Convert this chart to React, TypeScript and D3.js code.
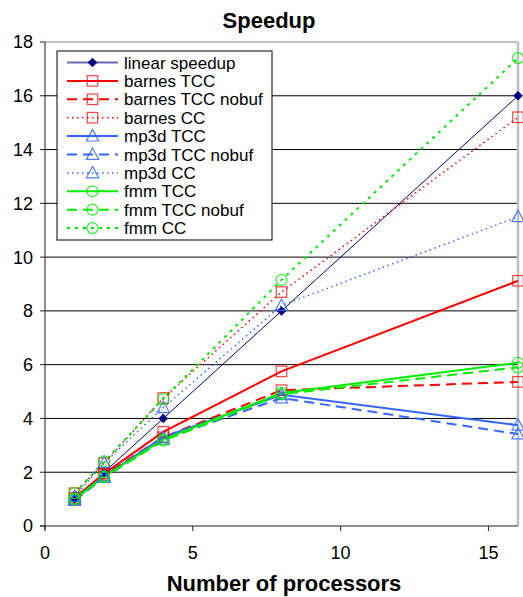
import React from "react";
import * as d3 from "d3";

// Processor counts measured
const processors = [1, 2, 4, 8, 16];

// Speedup values per configuration
const linearSpeedup = [1, 2, 4, 8, 16];
const barnesTCC = [1.05, 1.95, 3.5, 5.75, 9.12];
const barnesTCCNobuf = [1.0, 1.9, 3.3, 5.05, 5.36];
const barnesCC = [1.22, 2.34, 4.76, 8.7, 15.2];
const mp3dTCC = [1.0, 1.85, 3.3, 4.88, 3.75];
const mp3dTCCNobuf = [0.95, 1.8, 3.22, 4.76, 3.42];
const mp3dCC = [1.1, 2.35, 4.4, 8.2, 11.5];
const fmmTCC = [1.0, 1.85, 3.22, 4.95, 6.07];
const fmmTCCNobuf = [1.0, 1.82, 3.17, 4.9, 5.9];
const fmmCC = [1.22, 2.4, 4.72, 9.15, 17.4];

const seriesNames = [
  "linear speedup",
  "barnes TCC",
  "barnes TCC nobuf",
  "barnes CC",
  "mp3d TCC",
  "mp3d TCC nobuf",
  "mp3d CC",
  "fmm TCC",
  "fmm TCC nobuf",
  "fmm CC",
];

const xTicks = [0, 5, 10, 15];
const yTicks = [0, 2, 4, 6, 8, 10, 12, 14, 16, 18];

type Marker = "diamond" | "square" | "triangle" | "circle";
type Style = {
  color: string;
  width: number;
  dash: string | null;
  marker: Marker;
};

const RED = "#ff0000";
const BLUE = "#3366ff";
const GREEN = "#00ee00";
const NAVY = "#000080";

const seriesValues = [
  linearSpeedup,
  barnesTCC,
  barnesTCCNobuf,
  barnesCC,
  mp3dTCC,
  mp3dTCCNobuf,
  mp3dCC,
  fmmTCC,
  fmmTCCNobuf,
  fmmCC,
];

const seriesStyles: Style[] = [
  { color: NAVY, width: 1, dash: null, marker: "diamond" },
  { color: RED, width: 2, dash: null, marker: "square" },
  { color: RED, width: 2, dash: "10,6", marker: "square" },
  { color: RED, width: 1.5, dash: "1.5,3.5", marker: "square" },
  { color: BLUE, width: 2, dash: null, marker: "triangle" },
  { color: BLUE, width: 2, dash: "10,6", marker: "triangle" },
  { color: BLUE, width: 1.5, dash: "1.5,3.5", marker: "triangle" },
  { color: GREEN, width: 2, dash: null, marker: "circle" },
  { color: GREEN, width: 2, dash: "10,6", marker: "circle" },
  { color: GREEN, width: 2, dash: "3,5", marker: "circle" },
];

const W = 523;
const H = 597;
const plot = { left: 45, right: 518, top: 42, bottom: 526 };

const x = d3.scaleLinear().domain([0, 16]).range([plot.left, plot.right]);
const y = d3.scaleLinear().domain([0, 18]).range([plot.bottom, plot.top]);

function MarkerShape({ kind, cx, cy, color }: { kind: Marker; cx: number; cy: number; color: string }) {
  if (kind === "diamond") {
    const r = 4.5;
    return (
      <path
        d={`M${cx},${cy - r}L${cx + r},${cy}L${cx},${cy + r}L${cx - r},${cy}Z`}
        fill={NAVY}
        stroke={NAVY}
        strokeWidth={0.5}
      />
    );
  }
  if (kind === "square") {
    const s = 10.5;
    return (
      <rect
        x={cx - s / 2}
        y={cy - s / 2}
        width={s}
        height={s}
        fill="none"
        stroke={color}
        strokeOpacity={0.75}
        strokeWidth={1.2}
      />
    );
  }
  if (kind === "triangle") {
    const r = 6.5;
    return (
      <path
        d={`M${cx},${cy - r}L${cx + r * 0.95},${cy + r * 0.75}L${cx - r * 0.95},${cy + r * 0.75}Z`}
        fill="none"
        stroke={color}
        strokeOpacity={0.85}
        strokeWidth={1.2}
      />
    );
  }
  return (
    <circle cx={cx} cy={cy} r={5.5} fill="none" stroke={color} strokeOpacity={0.85} strokeWidth={1.2} />
  );
}

export default function App() {
  const line = d3
    .line<number>()
    .x((_, i) => x(processors[i]))
    .y((v) => y(v));

  const legend = { x: 57, y: 51, w: 215, h: 189 };
  const rowY = (i: number) => 62.5 + i * 18.4;

  return (
    <svg
      width={W}
      height={H}
      style={{ position: "absolute", left: 0, top: 0, background: "#fff" }}
      fontFamily="'Liberation Sans', Arial, sans-serif"
    >
      <rect width={W} height={H} fill="#fff" />

      {/* Title */}
      <text x={269} y={28} textAnchor="middle" fontSize={22} fontWeight="bold" fill="#000">
        Speedup
      </text>

      {/* Horizontal gridlines */}
      {yTicks
        .filter((t) => t > 0 && t < 18)
        .map((t) => (
          <line key={`g${t}`} x1={plot.left} x2={plot.right} y1={y(t)} y2={y(t)} stroke="#000" strokeWidth={1} />
        ))}

      {/* Plot frame: top and right borders */}
      <line x1={plot.left} x2={plot.right} y1={plot.top} y2={plot.top} stroke="#808080" strokeWidth={1} />
      <line x1={plot.right} x2={plot.right} y1={plot.top} y2={plot.bottom} stroke="#c0c0c0" strokeWidth={2.5} />

      {/* Axes */}
      <line x1={plot.left} x2={plot.left} y1={plot.top} y2={plot.bottom + 4} stroke="#222" strokeWidth={1} />
      <line x1={plot.left - 5} x2={plot.right} y1={plot.bottom} y2={plot.bottom} stroke="#222" strokeWidth={1} />

      {yTicks.map((t) => (
        <g key={`y${t}`}>
          <line x1={plot.left - 5} x2={plot.left} y1={y(t)} y2={y(t)} stroke="#222" />
          <text x={33} y={y(t)} dy="0.36em" textAnchor="end" fontSize={18} fill="#000">
            {t}
          </text>
        </g>
      ))}

      {xTicks.map((t) => (
        <g key={`x${t}`}>
          <line x1={x(t)} x2={x(t)} y1={plot.bottom} y2={plot.bottom + 5} stroke="#222" />
          <text x={x(t)} y={559} textAnchor="middle" fontSize={18} fill="#000">
            {t}
          </text>
        </g>
      ))}

      <text x={284} y={591} textAnchor="middle" fontSize={22} fontWeight="bold" fill="#000">
        Number of processors
      </text>

      {/* Series lines */}
      {seriesValues.map((vals, i) => {
        const st = seriesStyles[i];
        return (
          <path
            key={`l${i}`}
            d={line(vals) || ""}
            fill="none"
            stroke={st.color}
            strokeWidth={st.width}
            strokeDasharray={st.dash || undefined}
          />
        );
      })}

      {/* Series markers */}
      {seriesValues.map((vals, i) => (
        <g key={`m${i}`}>
          {vals.map((v, j) => (
            <MarkerShape
              key={j}
              kind={seriesStyles[i].marker}
              cx={x(processors[j])}
              cy={y(v)}
              color={seriesStyles[i].color}
            />
          ))}
        </g>
      ))}

      {/* Legend */}
      <rect x={legend.x} y={legend.y} width={legend.w} height={legend.h} fill="#fff" stroke="#000" strokeWidth={1} />
      {seriesNames.map((name, i) => {
        const st = seriesStyles[i];
        const cy = rowY(i);
        return (
          <g key={`lg${i}`}>
            <line
              x1={67}
              x2={118}
              y1={cy}
              y2={cy}
              stroke={i === 0 ? "#6a6aae" : st.color}
              strokeWidth={i === 0 ? 2 : st.width}
              strokeDasharray={st.dash || undefined}
            />
            <MarkerShape kind={st.marker} cx={92.5} cy={cy} color={st.color} />
            <text x={124} y={cy} dy="0.36em" fontSize={17} fill="#000">
              {name}
            </text>
          </g>
        );
      })}
    </svg>
  );
}
